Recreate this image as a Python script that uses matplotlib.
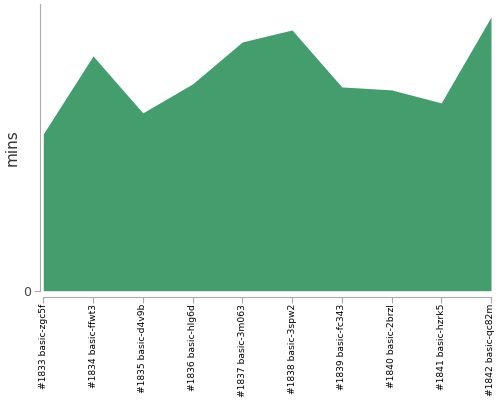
"""Build duration area chart (mins per build)."""
import matplotlib
matplotlib.use('Agg')
import matplotlib.pyplot as plt

builds = ['#1833 basic-zgc5f', '#1834 basic-ffwt3', '#1835 basic-d4v9b',
          '#1836 basic-hlg6d', '#1837 basic-3m063', '#1838 basic-3spw2',
          '#1839 basic-fc343', '#1840 basic-2brzl', '#1841 basic-hzrk5',
          '#1842 basic-qc82m']
mins = [15.7, 23.5, 17.8, 20.7, 24.9, 26.1, 20.4, 20.1, 18.8, 27.4]
Y_TOP = 28.7

fig = plt.figure(figsize=(5, 4), dpi=100)
ax = fig.add_axes([43.3 / 500, 1 - 290.7 / 400, (491 - 43.3) / 500, (290.7 - 4) / 400])

x = list(range(len(builds)))
ax.fill_between(x, 0, mins, color='#449d6d', linewidth=0)

ax.set_xlim(0, len(builds) - 1)
ax.set_ylim(0, Y_TOP)

for s in ['top', 'right']:
    ax.spines[s].set_visible(False)
ax.spines['left'].set_position(('outward', 2.5))
ax.spines['bottom'].set_position(('outward', 4.5))
for s in ['left', 'bottom']:
    ax.spines[s].set_color('#aaaaaa')
    ax.spines[s].set_linewidth(0.8)
ax.tick_params(axis='both', color='#aaaaaa', length=4, width=0.8)
ax.tick_params(axis='x', labelsize=6.6, labelcolor='black', labelrotation=90, pad=1)
ax.tick_params(axis='y', labelsize=9, labelcolor='#444444', pad=2)

ax.set_xticks(x)
ax.set_xticklabels(builds)
ax.set_yticks([0])
ax.set_yticklabels(['0'])

ax.set_ylabel('mins', fontsize=11, color='#333333', labelpad=3)

plt.savefig('out.png', dpi=100)
plt.close()
